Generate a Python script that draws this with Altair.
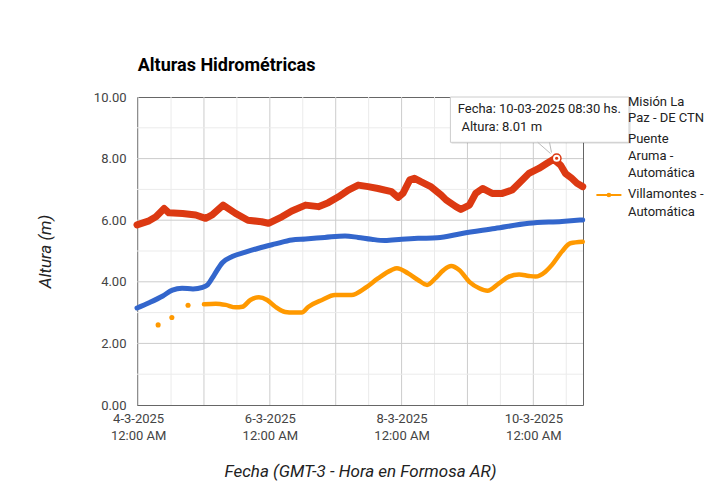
import altair as alt
import pandas as pd

# ---------------- data (hours after 2025-03-04 00:00, heights in m) ----------------
red_h = [-0.4, 4, 6.5, 9.5, 11.2, 16.2, 21, 24.6, 27, 31, 35.5, 40, 45, 47.5, 52.4, 56, 61,
         65.7, 69.3, 73, 76.6, 80.2, 83.8, 87.4, 92.3, 94.7, 96.5, 99, 100.7, 103, 106.8,
         110.4, 112.2, 115.8, 117.6, 120.7, 123, 125.5, 129, 132.7, 136.3, 138.8, 142.4,
         146, 149, 151.4, 153.9, 155.7, 158, 159.9, 162]
red_v = [5.85, 5.98, 6.11, 6.38, 6.24, 6.22, 6.17, 6.06, 6.17, 6.49, 6.22, 6.00, 5.95, 5.90,
         6.11, 6.30, 6.49, 6.44, 6.57, 6.76, 6.98, 7.14, 7.09, 7.03, 6.93, 6.74, 6.87, 7.31,
         7.36, 7.25, 7.08, 6.82, 6.66, 6.44, 6.35, 6.49, 6.87, 7.03, 6.87, 6.87, 6.98, 7.20,
         7.52, 7.68, 7.85, 7.98, 7.79, 7.52, 7.36, 7.20, 7.09]

blue_h = [-0.4, 4, 9, 12.5, 16, 20, 23.5, 25.3, 27.7, 30.7, 34.3, 39.1, 43.9, 50, 56, 61, 68,
          75.4, 80.2, 85, 89.9, 96, 102, 109, 118, 130, 142.4, 154.4, 162]
blue_v = [3.15, 3.32, 3.54, 3.73, 3.79, 3.77, 3.82, 3.90, 4.22, 4.62, 4.82, 4.96, 5.09, 5.23,
          5.36, 5.39, 5.44, 5.49, 5.44, 5.38, 5.34, 5.38, 5.41, 5.43, 5.57, 5.73, 5.90, 5.96, 6.01]

orange_dots_h = [7.3, 12.3, 18.2]
orange_dots_v = [2.60, 2.84, 3.24]
orange_h = [24, 28.3, 31.9, 35.5, 38, 40.9, 44, 47, 50, 53.6, 56.6, 59.6, 62.1, 67, 71.7, 77.8,
            82.6, 87.4, 92.3, 94.3, 98.3, 102, 105.3, 108.3, 111.3, 114.1, 117, 120.7, 124.3,
            127.3, 131.5, 135.1, 138.8, 142.4, 144.8, 148.4, 150.8, 154.4, 157.5, 162]
orange_v = [3.27, 3.29, 3.25, 3.17, 3.19, 3.41, 3.50, 3.41, 3.19, 3.02, 3.00, 3.00, 3.19, 3.41,
            3.57, 3.57, 3.79, 4.11, 4.38, 4.44, 4.28, 4.06, 3.90, 4.11, 4.38, 4.51, 4.38, 4.00,
            3.79, 3.71, 3.95, 4.17, 4.24, 4.19, 4.17, 4.33, 4.55, 4.98, 5.25, 5.30]

tip_h = [152.5]
tip_v = [8.01]

legend_lines = [["Misión La", "Paz - DE CTN"], ["Puente", "Aruma -", "Automática"],
                ["Villamontes -", "Automática"]]
y_tick_values = [0, 2, 4, 6, 8, 10]
x_label_days = [4, 6, 8, 10]
grid_x_major_h = [0, 24, 48, 72, 96, 120, 144]
grid_x_minor_h = [12, 36, 60, 84, 108, 132, 156]
grid_y_major = [2, 4, 6, 8]
grid_y_minor = [1, 3, 5, 7, 9]

RED, BLUE, ORANGE = "#dc3912", "#3366cc", "#ff9900"
FONT = "Roboto"

base = pd.Timestamp("2025-03-04T00:00:00")


def ts(hours):
    return [(base + pd.Timedelta(hours=h)).strftime("%Y-%m-%dT%H:%M:%SZ") for h in hours]


def frame(hours, values=None):
    d = {"t": ts(hours)}
    if values is not None:
        d["v"] = values
    return pd.DataFrame(d)


xscale = alt.Scale(type="utc",
                   domain=[alt.DateTime(year=2025, month=3, date=3, hours=23, minutes=36, utc=True),
                           alt.DateTime(year=2025, month=3, date=10, hours=18, minutes=6, utc=True)])
yscale = alt.Scale(domain=[0, 10], nice=False, zero=False)

x_axis = alt.Axis(
    values=[alt.DateTime(year=2025, month=3, date=d, utc=True) for d in x_label_days],
    labelExpr="[utcFormat(datum.value, '%-d-%-m-%Y'), '12:00 AM']",
    labelAlign="center", labelBaseline="top", labelLineHeight=17, labelPadding=7,
    labelFlush=False, labelOverlap=False, labelBound=False,
    ticks=False, grid=False, domain=False,
    labelFont=FONT, labelFontSize=13, labelColor="#444444",
    title="Fecha (GMT-3 - Hora en Formosa AR)", titleFont=FONT, titleFontSize=17,
    titleFontStyle="italic", titleFontWeight="normal", titleColor="#222222",
    titleX=223, titleY=66, titleBaseline="middle", titleAlign="center",
)
y_axis = alt.Axis(
    values=y_tick_values, format=".2f", labelPadding=11, ticks=False, grid=False, domain=False,
    labelFont=FONT, labelFontSize=13, labelColor="#444444",
    title="Altura (m)", titleFont=FONT, titleFontSize=17, titleFontStyle="italic",
    titleFontWeight="normal", titleColor="#222222",
    titleX=-92, titleY=154, titleBaseline="middle", titleAlign="center", titleAngle=270,
)

X0 = alt.X("t:T", scale=xscale, axis=x_axis)
Y0 = alt.Y("v:Q", scale=yscale, axis=y_axis)

one = pd.DataFrame({"a": [0]})

# grid lines
gx_minor = alt.Chart(frame(grid_x_minor_h)).mark_rule(color="#ebebeb", strokeWidth=1).encode(x=X0)
gx_major = alt.Chart(frame(grid_x_major_h)).mark_rule(color="#cccccc", strokeWidth=1).encode(x=X0)
gy_minor = alt.Chart(pd.DataFrame({"v": grid_y_minor})).mark_rule(color="#ebebeb", strokeWidth=1).encode(y=Y0)
gy_major = alt.Chart(pd.DataFrame({"v": grid_y_major})).mark_rule(color="#cccccc", strokeWidth=1).encode(y=Y0)

red = alt.Chart(frame(red_h, red_v)).mark_line(
    color=RED, strokeWidth=7, strokeJoin="round", strokeCap="round").encode(x=X0, y=Y0)
blue = alt.Chart(frame(blue_h, blue_v)).mark_line(
    color=BLUE, strokeWidth=5, interpolate="monotone", strokeCap="round").encode(x=X0, y=Y0)
orange = alt.Chart(frame(orange_h, orange_v)).mark_line(
    color=ORANGE, strokeWidth=4.5, interpolate="monotone", strokeCap="round").encode(x=X0, y=Y0)
orange_dots = alt.Chart(frame(orange_dots_h, orange_dots_v)).mark_circle(
    color=ORANGE, size=26, opacity=1).encode(x=X0, y=Y0)

# highlighted point + tooltip box
tip_ring = alt.Chart(frame(tip_h, tip_v)).mark_point(
    shape="circle", filled=True, fill="white", stroke=RED, strokeWidth=1.5, size=75, opacity=1
).encode(x=X0, y=Y0)
tip_dot = alt.Chart(frame(tip_h, tip_v)).mark_circle(color=RED, size=10, opacity=1).encode(x=X0, y=Y0)

box_shadow = alt.Chart(one).mark_rect(fill="#000000", opacity=0.08).encode(
    x=alt.value(314.5), x2=alt.value(494), y=alt.value(1.5), y2=alt.value(47))
box = alt.Chart(one).mark_rect(fill="white", stroke="#cccccc", strokeWidth=1).encode(
    x=alt.value(313.4), x2=alt.value(492), y=alt.value(0), y2=alt.value(45.3))
tail1 = alt.Chart(one).mark_rule(color="#bbbbbb", strokeWidth=1).encode(
    x=alt.value(400.7), y=alt.value(45.3), x2=alt.value(413.5), y2=alt.value(56.5))
tail2 = alt.Chart(one).mark_rule(color="#bbbbbb", strokeWidth=1).encode(
    x=alt.value(412.5), y=alt.value(45.3), x2=alt.value(414.5), y2=alt.value(55.5))
tip_text1 = alt.Chart(one).mark_text(
    text="Fecha: 10-03-2025 08:30 hs.", align="left", baseline="middle",
    font=FONT, fontSize=13, color="#222222").encode(x=alt.value(320.7), y=alt.value(12))
tip_text2 = alt.Chart(one).mark_text(
    text="Altura: 8.01 m", align="left", baseline="middle",
    font=FONT, fontSize=13, color="#222222").encode(x=alt.value(324.4), y=alt.value(29.7))

# title
title = alt.Chart(one).mark_text(
    text="Alturas Hidrométricas", align="left", baseline="alphabetic",
    font=FONT, fontSize=18, fontWeight="bold", color="#000000").encode(
    x=alt.value(0.7), y=alt.value(-26.5))

# legend (label lines, only Villamontes shows a symbol)
legend_y = [[4.7, 21.3], [42.3, 59.0, 76.3], [97.3, 114.7]]
legend_layers = []
for lines, ys in zip(legend_lines, legend_y):
    for txt, yy in zip(lines, ys):
        legend_layers.append(alt.Chart(one).mark_text(
            text=txt, align="left", baseline="middle", font=FONT, fontSize=13,
            color="#222222").encode(x=alt.value(491), y=alt.value(yy)))
leg_sym_line = alt.Chart(one).mark_rule(color=ORANGE, strokeWidth=2).encode(
    x=alt.value(459.4), x2=alt.value(484.4), y=alt.value(98))
leg_sym_dot = alt.Chart(one).mark_circle(color=ORANGE, size=22, opacity=1).encode(
    x=alt.value(471.9), y=alt.value(98))

chart = alt.layer(
    gx_minor, gx_major, gy_minor, gy_major,
    red, blue, orange, orange_dots,
    tip_ring, tip_dot,
    box_shadow, box, tail1, tail2, tip_text1, tip_text2,
    title, leg_sym_line, leg_sym_dot, *legend_layers,
).properties(
    width=446, height=308,
    autosize=alt.AutoSizeParams(type="none"),
    padding={"left": 129, "top": 89, "right": 129, "bottom": 87},
    background="white",
).configure_view(stroke="#666666", strokeWidth=1)

chart.save("out.html", embed_options={"renderer": "svg", "actions": False})
